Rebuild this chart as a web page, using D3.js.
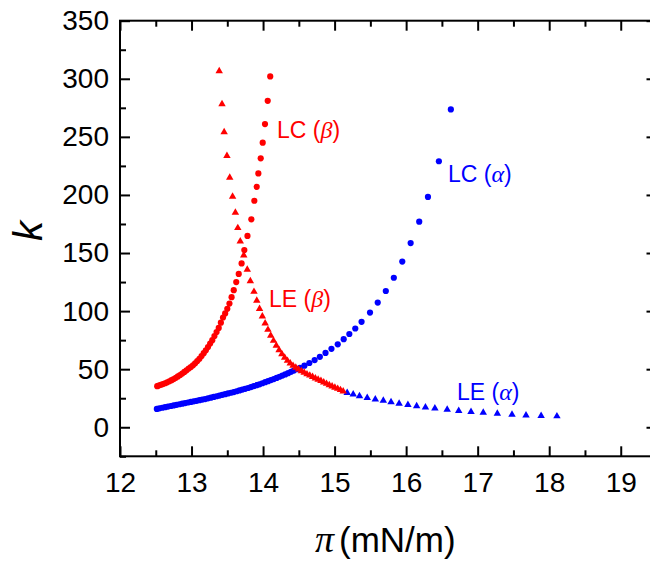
<!DOCTYPE html>
<html>
<head>
    <meta charset="utf-8">
    <style>
        body { margin: 0; background: #fff; }
        svg { display: block; }
        .axis text { font-family: Arial, 'Liberation Sans', sans-serif; font-size: 28px; fill: #000; }
        .axis line { stroke: #000; stroke-width: 2px; }
        .axis .domain { display: none; }
        .series_label { font-family: Arial, 'Liberation Sans', sans-serif; font-size: 23px; }
    </style>
</head>
<body>
    <svg class="chart" width="650" height="563"></svg>

<script src="https://d3js.org/d3.v7.min.js"></script>
<script>
    // [pi (mN/m), k]
    let lc_beta = [
        [14.10, 302], [14.065, 281], [14.027, 261], [13.995, 245], [13.967, 231.5],
        [13.934, 218.5], [13.911, 207], [13.878, 195], [13.836, 179], [13.782, 164.7],
        [13.738, 152.5], [13.70, 141], [13.66, 132], [13.625, 125], [13.59, 118],
        [13.56, 112], [13.53, 106.5], [13.50, 102], [13.47, 98], [13.44, 94.5],
        [13.41, 90], [13.38, 85.5], [13.35, 82], [13.32, 78.5], [13.29, 75],
        [13.26, 72], [13.23, 69], [13.20, 66.3], [13.17, 63.8], [13.14, 61.3],
        [13.11, 59], [13.08, 57], [13.05, 55], [13.02, 53.3], [12.99, 51.8],
        [12.96, 50.5], [12.93, 49], [12.90, 47.6], [12.87, 46.3], [12.84, 45],
        [12.81, 43.8], [12.78, 42.6], [12.75, 41.5], [12.72, 40.5], [12.69, 39.6],
        [12.66, 38.7], [12.63, 37.9], [12.60, 37.2], [12.57, 36.5], [12.54, 35.9],
        [12.52, 35.4]
    ];

    let le_beta = [
        [13.387, 306.7], [13.426, 278.3], [13.456, 254.2], [13.495, 233.6], [13.534, 214.9],
        [13.574, 198.6], [13.613, 184.8], [13.647, 171.6], [13.681, 160.1], [13.73, 148.1],
        [13.779, 135.7], [13.822, 125.9], [13.873, 116.7], [13.912, 109], [13.951, 102],
        [13.99, 95.5], [14.029, 89.5], [14.068, 84], [14.107, 79], [14.146, 74.5],
        [14.185, 70.3], [14.224, 66.5], [14.263, 63], [14.302, 60], [14.341, 57.3],
        [14.38, 55], [14.419, 53], [14.458, 51.3], [14.497, 49.8], [14.536, 48.4],
        [14.575, 47], [14.614, 45.7], [14.653, 44.6], [14.692, 43.4], [14.731, 42.2],
        [14.77, 41], [14.809, 39.9], [14.848, 38.7], [14.887, 37.5], [14.926, 36.4],
        [14.965, 35.3], [15.004, 34.2], [15.043, 33.2], [15.082, 32.1], [15.12, 31]
    ];

    let lc_alpha = [
        [12.515, 15.8], [12.55, 16.3], [12.59, 16.8], [12.63, 17.3], [12.67, 17.8],
        [12.71, 18.3], [12.75, 18.8], [12.79, 19.3], [12.83, 19.8], [12.87, 20.3],
        [12.91, 20.8], [12.95, 21.3], [12.99, 21.8], [13.03, 22.3], [13.07, 22.8],
        [13.11, 23.3], [13.15, 23.8], [13.19, 24.3], [13.23, 24.9], [13.27, 25.5],
        [13.31, 26.1], [13.35, 26.7], [13.39, 27.3], [13.43, 27.9], [13.47, 28.5],
        [13.51, 29.1], [13.55, 29.7], [13.59, 30.3], [13.63, 31], [13.67, 31.7],
        [13.71, 32.4], [13.75, 33.1], [13.79, 33.8], [13.83, 34.6], [13.87, 35.4],
        [13.91, 36.2], [13.95, 37], [13.99, 37.9], [14.03, 38.8], [14.07, 39.7],
        [14.11, 40.6], [14.15, 41.5], [14.19, 42.5], [14.23, 43.5], [14.27, 44.5],
        [14.31, 45.5], [14.35, 46.6], [14.39, 47.7], [14.43, 48.8], [14.47, 50],
        [14.515, 51.2], [14.578, 53], [14.647, 55.3], [14.721, 57.8], [14.794, 60.6],
        [14.873, 64], [14.956, 67.5], [15.044, 71.4], [15.127, 75.8], [15.206, 80.3],
        [15.289, 85], [15.377, 90.8], [15.495, 98.7], [15.603, 107.3], [15.716, 117.3],
        [15.828, 128.7], [15.946, 142.6], [16.063, 158.6], [16.183, 177], [16.305, 198.3],
        [16.458, 229], [16.625, 273.6]
    ];

    let le_alpha = [
        [15.176, 29.6], [15.26, 28.4], [15.348, 26.9], [15.456, 25.4], [15.569, 24.1],
        [15.681, 23], [15.789, 21.6], [15.902, 20.4], [16.025, 19.3], [16.147, 18.3],
        [16.27, 17.2], [16.402, 16.3], [16.574, 15.2], [16.735, 14.2], [16.907, 13.3],
        [17.078, 12.6], [17.275, 11.8], [17.48, 11], [17.676, 10.3], [17.887, 9.8],
        [18.108, 9.5]
    ];

    let x_ticks = [12, 13, 14, 15, 16, 17, 18, 19];
    let x_minor = [12.5, 13.5, 14.5, 15.5, 16.5, 17.5, 18.5];
    let y_ticks = [0, 50, 100, 150, 200, 250, 300, 350];
    let y_minor = [-25, 25, 75, 125, 175, 225, 275, 325];

    let red = "#ff0000";
    let blue = "#0000ff";

    let svg = d3.select(".chart");

    let x = d3.scaleLinear().domain([12, 19.5]).range([120, 656.5]);
    let y = d3.scaleLinear().domain([-25, 350]).range([456.3, 20.7]);

    // axes, ticks pointing inward
    svg.append("g").attr("class", "x axis")
        .attr("transform", `translate(0, ${y(-25)})`)
        .call(d3.axisBottom(x).tickValues(x_ticks).tickSizeInner(-10).tickSizeOuter(0).tickPadding(16));
    svg.append("g").attr("class", "x axis")
        .attr("transform", `translate(0, ${y(-25)})`)
        .call(d3.axisBottom(x).tickValues(x_minor).tickSizeInner(-6).tickSizeOuter(0).tickFormat(""));
    svg.append("g").attr("class", "x axis")
        .attr("transform", `translate(0, ${y(350)})`)
        .call(d3.axisTop(x).tickValues(x_ticks).tickSizeInner(-10).tickSizeOuter(0).tickFormat(""));
    svg.append("g").attr("class", "x axis")
        .attr("transform", `translate(0, ${y(350)})`)
        .call(d3.axisTop(x).tickValues(x_minor).tickSizeInner(-6).tickSizeOuter(0).tickFormat(""));

    svg.append("g").attr("class", "y axis")
        .attr("transform", `translate(${x(12)}, 0)`)
        .call(d3.axisLeft(y).tickValues(y_ticks).tickSizeInner(-10).tickSizeOuter(0).tickPadding(11));
    svg.append("g").attr("class", "y axis")
        .attr("transform", `translate(${x(12)}, 0)`)
        .call(d3.axisLeft(y).tickValues(y_minor).tickSizeInner(-6).tickSizeOuter(0).tickFormat(""));
    svg.append("g").attr("class", "y axis")
        .attr("transform", `translate(${x(19.5)}, 0)`)
        .call(d3.axisRight(y).tickValues(y_ticks).tickSizeInner(-10).tickSizeOuter(0).tickFormat(""));
    svg.append("g").attr("class", "y axis")
        .attr("transform", `translate(${x(19.5)}, 0)`)
        .call(d3.axisRight(y).tickValues(y_minor).tickSizeInner(-6).tickSizeOuter(0).tickFormat(""));

    // frame
    svg.append("rect")
        .attr("x", x(12))
        .attr("y", y(350))
        .attr("width", x(19.5) - x(12))
        .attr("height", y(-25) - y(350))
        .style("fill", "none")
        .style("stroke", "#000")
        .style("stroke-width", "2px");

    let tri = d3.symbol().type(d3.symbolTriangle).size(24);

    function dots(data, color) {
        svg.append("g")
            .selectAll("circle")
            .data(data)
            .join("circle")
            .attr("cx", d => x(d[0]))
            .attr("cy", d => y(d[1]))
            .attr("r", 3.1)
            .style("fill", color);
    }

    function triangles(data, color) {
        svg.append("g")
            .selectAll("path")
            .data(data)
            .join("path")
            .attr("d", tri)
            .attr("transform", d => `translate(${x(d[0])}, ${y(d[1])})`)
            .style("fill", color);
    }

    dots(lc_alpha, blue);
    triangles(le_alpha, blue);
    dots(lc_beta, red);
    triangles(le_beta, red);

    // series labels
    function series_label(px, py, name, greek, color) {
        let t = svg.append("text")
            .attr("class", "series_label")
            .attr("x", px)
            .attr("y", py)
            .style("fill", color);
        t.append("tspan").text(name + " (");
        t.append("tspan").style("font-style", "italic").style("font-family", "'Liberation Serif', 'Times New Roman', serif").style("font-size", "24px").text(greek);
        t.append("tspan").text(")");
    }

    series_label(277, 137.5, "LC", "β", red);
    series_label(269, 307, "LE", "β", red);
    series_label(448, 182, "LC", "α", blue);
    series_label(457, 400, "LE", "α", blue);

    // axis titles
    svg.append("text")
        .attr("x", 315)
        .attr("y", 552)
        .text("π")
        .style("font-family", "'Liberation Serif', 'Times New Roman', serif")
        .style("font-style", "italic")
        .style("font-size", "38px");

    svg.append("text")
        .attr("x", 339)
        .attr("y", 552)
        .text("(mN/m)")
        .style("font-family", "Arial, 'Liberation Sans', sans-serif")
        .style("font-size", "35px");

    svg.append("text")
        .attr("transform", "translate(42, 231) rotate(-90)")
        .attr("text-anchor", "middle")
        .text("k")
        .style("font-family", "Arial, 'Liberation Sans', sans-serif")
        .style("font-style", "italic")
        .style("font-size", "40px");
</script>
</body>
</html>
